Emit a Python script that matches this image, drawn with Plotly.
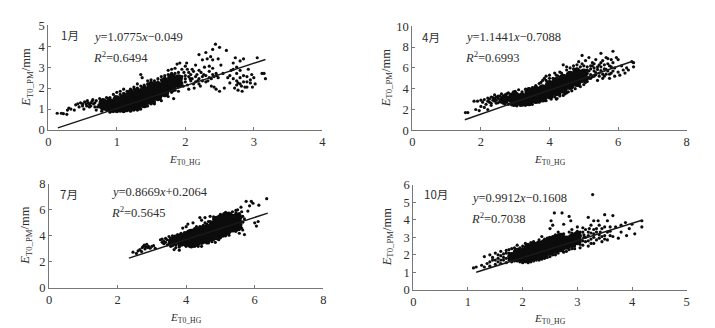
import plotly.graph_objects as go

W, H = 715, 328
FONT = "Liberation Serif"

# --- data ---
jan_core = [(0.8,1.15),(0.8,1.3),(0.9,1.08),(0.9,1.3),(1.0,1.03),(1.0,1.25),(1.0,1.45),(1.1,1.03),(1.1,1.25),(1.1,1.5),
 (1.2,1.08),(1.2,1.3),(1.2,1.55),(1.2,1.72),(1.3,1.12),(1.3,1.35),(1.3,1.6),(1.3,1.8),(1.4,1.25),(1.4,1.45),(1.4,1.7),(1.4,1.9),
 (1.5,1.42),(1.5,1.68),(1.5,1.92),(1.5,2.1),(1.6,1.6),(1.6,1.85),(1.6,2.1),(1.7,1.78),(1.7,2.05),(1.7,2.3),(1.8,2.0),(1.8,2.25),(1.8,2.5),(1.9,2.2),(1.9,2.45)]
jan_pts = [(0.13,0.8),(0.19,0.8),(0.22,0.78),(0.27,0.75),(0.28,0.95),(0.3,1.05),(0.33,1.0),(0.38,0.95),(0.4,1.2),(0.43,1.25),(0.45,1.1),(0.47,1.3),(0.5,1.15),(0.52,1.0),(0.55,1.25),(0.57,1.4),(0.6,1.1),(0.62,1.3),(0.65,1.45),(0.68,1.1),(0.7,0.95),(0.75,1.5),(0.78,0.9),(0.85,1.55),(0.9,0.85),(0.95,1.7),(1.0,1.8),(1.05,1.85),(1.1,1.95),(1.12,1.72),(1.2,1.95),(1.25,2.05),(1.3,2.2),(1.35,2.65),(1.37,2.5),(1.4,2.15),(1.45,2.35),(1.5,2.4),(1.55,2.35),(1.55,1.35),(1.6,2.45),(1.65,2.4),(1.65,1.4),(1.7,2.6),(1.75,2.85),(1.75,1.6),(1.8,2.9),(1.83,1.5),(1.85,2.7),(1.88,3.15),(1.9,1.85),(1.92,3.2),(1.95,2.9),(1.97,2.1),(2.0,3.05),(2.0,2.6),(2.0,2.3),(2.02,3.2),(2.05,1.95),(2.05,2.75),(2.07,2.45),(2.1,2.9),(2.12,2.2),(2.15,3.1),(2.15,2.55),(2.18,2.35),(2.2,2.85),(2.2,3.6),(2.22,2.1),(2.25,3.35),(2.27,2.65),(2.28,3.0),(2.3,3.7),(2.3,2.3),(2.32,3.4),(2.35,2.8),(2.35,2.5),(2.37,3.5),(2.38,2.1),(2.4,3.85),(2.4,3.35),(2.4,2.65),(2.42,2.05),(2.44,4.1),(2.45,1.95),(2.46,2.6),(2.5,3.95),(2.5,1.85),(2.52,3.1),(2.55,2.7),(2.57,2.0),(2.6,3.8),(2.62,2.5),(2.65,2.25),(2.67,2.85),(2.7,2.45),(2.72,2.0),(2.73,3.45),(2.75,3.0),(2.75,2.7),(2.77,2.25),(2.77,1.9),(2.8,3.3),(2.8,2.85),(2.8,2.5),(2.82,2.1),(2.83,1.85),(2.85,2.6),(2.85,3.4),(2.87,2.05),(2.9,2.3),(2.92,2.9),(2.95,2.4),(2.97,2.65),(2.98,2.05),(3.0,2.5),(3.02,2.2),(3.05,3.45),(3.12,2.7),(3.15,2.7),(3.17,2.45)]
jan_extra = [(0.5,1.25),(0.53,1.35),(0.56,1.15),(0.58,1.3),(0.6,1.22),(0.62,1.15),(0.64,1.38),(0.66,1.25),(0.68,1.3),(0.7,1.4),(0.72,1.1),(0.74,1.2),(0.76,1.35),(0.78,1.05),(0.8,1.45),(0.82,1.0),(0.85,0.95),(0.88,1.5),(0.9,1.55),(0.92,0.9),(0.95,0.88),(0.98,1.6),(1.05,1.7),(1.1,1.75),(1.15,1.85),(1.2,1.9),(1.25,1.95),(1.3,2.0),(1.35,2.1),(1.4,2.1),(1.45,2.2),(1.5,2.3),(1.55,2.25),(1.6,2.3),(1.65,2.55),(1.7,2.5),(1.75,2.65),(1.8,2.7),(1.85,2.95),(1.9,2.75),(1.95,2.55),(1.95,2.25),(1.98,2.75),(2.0,2.45),(2.03,2.9),(2.03,2.15),(2.05,2.55),(2.08,2.35),(2.08,2.65),(2.1,2.45),(2.12,2.8),(2.13,2.0),(2.15,2.3),(2.17,2.65),(2.2,2.45),(2.2,2.2),(2.23,2.75),(2.25,2.55),(2.25,2.35),(2.3,2.6),(2.33,2.35),(2.35,3.05),(2.38,2.45),(2.4,2.95),(2.42,2.55),(2.45,2.7),(2.48,3.4),(2.48,2.5),(1.6,1.45),(1.7,1.65),(1.8,1.8),(1.85,1.9),(1.45,1.15),(1.5,1.25),(1.55,1.25),(1.35,1.0),(1.3,0.95),(1.25,0.95),(1.2,0.9),(1.15,0.92),(1.1,0.88),(1.05,0.9),(1.0,0.88),(2.65,2.6),(2.7,2.9),(2.75,2.35),(2.8,2.2),(2.85,2.3),(2.9,2.55),(2.9,2.05),(2.75,2.15),(2.7,3.2),(2.95,2.25)]
jan_line_x = [0.14, 3.17]
jan_line_y = [0.10, 3.37]

apr_core = [(2.7,3.0),(2.9,3.05),(3.0,2.7),(3.0,3.3),(3.2,2.7),(3.2,3.2),(3.4,2.75),(3.4,3.3),(3.4,3.7),(3.6,2.95),(3.6,3.4),(3.6,3.85),(3.8,3.1),(3.8,3.55),(3.8,4.0),(4.0,3.4),(4.0,3.85),(4.0,4.4),(4.2,3.7),(4.2,4.15),(4.2,4.7),(4.4,3.95),(4.4,4.45),(4.4,5.0),(4.6,4.3),(4.6,4.8),(4.6,5.3),(4.8,4.6),(4.8,5.1),(4.8,5.6),(5.0,5.0),(5.0,5.5)]
apr_pts = [(1.55,1.7),(1.62,1.7),(1.8,2.8),(1.85,2.0),(1.9,2.8),(1.95,1.9),(2.0,2.9),(2.0,2.3),(2.05,2.7),(2.1,2.2),(2.1,2.95),(2.15,2.5),(2.2,3.1),(2.2,2.0),(2.25,2.7),(2.3,3.2),(2.3,2.4),(2.35,2.9),(2.4,3.4),(2.45,2.6),(2.5,3.1),(2.55,2.75),(2.55,3.3),(2.6,3.5),(2.65,2.6),(2.7,3.4),(2.75,2.7),(2.8,3.6),(2.85,2.55),(2.9,3.5),(2.95,2.4),(3.0,3.75),(3.05,2.35),(3.1,3.9),(3.15,2.4),(3.2,3.7),(3.3,3.95),(3.3,2.4),(3.4,4.0),(3.5,2.5),(3.5,4.1),(3.6,4.3),(3.7,2.7),(3.7,4.5),(3.8,4.8),(3.85,5.0),(3.9,2.85),(3.9,5.2),(4.0,5.3),(4.05,3.0),(4.1,5.0),(4.2,3.0),(4.25,5.2),(4.3,3.3),(4.35,5.5),(4.4,6.3),(4.45,3.5),(4.5,5.8),(4.5,3.6),(4.6,6.0),(4.65,3.8),(4.7,5.9),(4.75,4.0),(4.8,6.3),(4.85,6.6),(4.9,4.2),(4.95,7.2),(5.0,6.2),(5.0,4.4),(5.05,6.7),(5.1,4.7),(5.1,5.8),(5.15,7.0),(5.2,5.0),(5.2,6.2),(5.25,6.5),(5.3,5.2),(5.3,5.7),(5.35,6.8),(5.4,6.1),(5.4,4.8),(5.45,5.5),(5.5,7.4),(5.5,6.5),(5.55,5.0),(5.6,5.9),(5.65,7.0),(5.65,5.4),(5.7,6.4),(5.75,5.0),(5.8,6.8),(5.8,5.5),(5.85,7.6),(5.9,6.0),(5.9,5.2),(5.95,7.0),(6.0,6.8),(6.0,5.6),(6.05,5.3),(6.1,6.2),(6.15,5.8),(6.2,5.5),(6.25,6.0),(6.3,5.8),(6.4,6.6),(6.45,6.5),(6.45,6.1)]
apr_extra = [(2.2,2.8),(2.25,3.0),(2.3,2.6),(2.35,3.15),(2.4,2.8),(2.4,3.05),(2.45,3.2),(2.45,2.9),(2.5,2.65),(2.5,3.3),(2.55,2.95),(2.6,3.15),(2.6,2.7),(2.65,3.3),(2.65,2.9),(2.7,2.55),(2.75,3.5),(2.8,2.5),(2.85,3.45),(2.9,2.45),(2.95,3.7),(5.05,5.2),(5.1,5.45),(5.1,6.1),(5.15,5.0),(5.15,5.7),(5.2,5.35),(5.2,5.9),(5.25,5.15),(5.25,6.2),(5.3,6.0),(5.3,6.4),(5.35,5.35),(5.35,5.55),(5.4,5.85),(5.45,6.3),(5.45,5.2),(5.5,5.75),(5.5,6.1),(5.55,6.7),(5.55,5.4),(5.6,6.3),(5.6,5.2),(5.65,5.85),(5.7,6.9),(5.7,5.7),(5.75,6.2),(5.75,5.4),(5.8,6.1),(5.85,6.5),(5.85,5.7),(4.9,6.1),(4.95,6.4),(4.8,5.9),(4.7,6.2),(4.5,6.1),(4.3,5.6),(4.2,5.3),(4.15,5.5),(4.0,5.0),(3.9,4.8),(3.75,4.6),(4.55,3.7),(4.4,3.35),(4.3,3.5),(4.15,3.2),(4.05,3.15),(4.22,3.05),(4.85,4.3),(4.95,4.7),(5.05,4.6)]
apr_line_x = [1.53, 6.42]
apr_line_y = [1.02, 6.64]

jul_core = [(3.6,3.55),(3.7,3.75),(3.85,3.5),(3.85,3.85),(4.0,3.5),(4.0,3.9),(4.15,3.45),(4.15,3.85),(4.15,4.2),(4.3,3.5),(4.3,3.9),(4.3,4.3),(4.45,3.65),(4.45,4.05),(4.45,4.45),(4.6,3.75),(4.6,4.15),(4.6,4.55),(4.75,3.9),(4.75,4.3),(4.75,4.7),(4.9,4.0),(4.9,4.4),(4.9,4.85),(4.9,5.2),(5.05,4.2),(5.05,4.6),(5.05,5.0),(5.05,5.35),(5.2,4.4),(5.2,4.8),(5.2,5.2),(5.2,5.5),(5.35,4.6),(5.35,5.0),(5.35,5.35),(5.5,4.7),(5.5,5.1),(5.5,5.45)]
jul_pts = [(2.45,2.75),(2.55,2.65),(2.6,2.85),(2.65,2.95),(2.7,2.8),(2.72,3.1),(2.75,3.2),(2.78,3.3),(2.8,3.0),(2.82,3.15),(2.85,3.35),(2.88,3.1),(2.9,3.2),(2.95,3.05),(3.0,3.2),(3.05,3.25),(3.1,3.05),(3.25,3.7),(3.3,3.5),(3.35,3.4),(3.4,3.8),(3.45,3.3),(3.5,3.95),(3.55,3.2),(3.6,4.0),(3.65,2.95),(3.7,3.1),(3.75,4.1),(3.8,3.15),(3.8,2.9),(3.85,4.2),(3.9,4.6),(3.95,4.25),(4.0,4.7),(4.0,3.2),(4.05,4.9),(4.1,4.4),(4.2,5.0),(4.25,4.55),(4.3,4.7),(4.4,5.4),(4.45,5.2),(4.45,3.2),(4.55,5.4),(4.55,5.0),(4.6,3.45),(4.7,5.5),(4.7,5.1),(4.85,3.5),(5.0,3.85),(5.1,5.7),(5.25,5.75),(5.35,5.85),(5.4,4.4),(5.45,5.95),(5.5,6.0),(5.55,4.2),(5.55,5.7),(5.6,6.2),(5.62,5.85),(5.65,4.45),(5.65,5.5),(5.7,5.3),(5.7,4.1),(5.75,6.65),(5.8,5.9),(5.85,6.3),(5.9,6.65),(5.95,6.5),(6.0,5.0),(6.05,4.75),(6.1,5.1),(6.35,6.85),(6.12,6.35)]
jul_extra = [(3.3,3.75),(3.35,3.6),(3.4,3.5),(3.45,3.7),(3.5,3.4),(3.55,3.8),(3.6,3.25),(3.7,3.3),(3.75,3.95),(3.8,3.25),(3.9,4.1),(4.0,4.25),(4.05,4.35),(4.1,3.2),(4.2,4.45),(4.3,4.55),(4.4,4.7),(4.5,4.8),(4.6,4.9),(4.65,5.1),(4.75,5.05),(4.8,5.3),(4.8,5.45),(4.95,5.5),(5.0,5.65),(5.15,5.8),(5.3,5.7),(5.45,5.75),(5.55,5.2),(5.6,5.4),(5.6,4.85),(5.65,5.05),(5.62,4.6),(5.55,4.5),(5.45,4.35),(5.25,4.05),(5.15,4.0),(4.95,3.7),(4.75,3.55),(4.65,3.45),(4.35,3.2),(4.2,3.2),(4.15,3.15),(4.25,3.2)]
jul_line_x = [2.33, 6.38]
jul_line_y = [2.29, 5.74]

oct_core = [(1.8,1.9),(1.9,1.85),(1.9,2.15),(2.0,1.8),(2.0,2.1),(2.1,1.8),(2.1,2.1),(2.1,2.4),(2.2,1.9),(2.2,2.2),(2.2,2.5),(2.3,1.95),(2.3,2.25),(2.3,2.55),(2.4,2.05),(2.4,2.35),(2.4,2.65),(2.5,2.2),(2.5,2.5),(2.5,2.8),(2.6,2.3),(2.6,2.6),(2.6,2.9),(2.7,2.4),(2.7,2.7),(2.7,3.0),(2.8,2.55),(2.8,2.85),(2.9,2.65),(2.9,2.95),(3.0,2.8),(3.0,3.1)]
oct_pts = [(1.1,1.25),(1.15,1.3),(1.25,1.4),(1.3,1.3),(1.3,1.9),(1.35,1.5),(1.4,1.35),(1.4,2.0),(1.45,1.7),(1.5,1.45),(1.5,2.1),(1.55,1.8),(1.6,1.5),(1.6,2.2),(1.65,1.85),(1.7,1.55),(1.7,2.1),(1.75,2.3),(1.8,1.6),(1.85,2.4),(1.9,1.65),(1.9,2.55),(1.95,2.4),(2.0,1.55),(2.0,2.5),(2.05,2.65),(2.1,1.55),(2.15,2.7),(2.2,1.65),(2.3,2.85),(2.3,1.7),(2.35,3.05),(2.4,1.8),(2.45,2.95),(2.5,3.0),(2.5,3.5),(2.5,1.9),(2.52,3.95),(2.55,3.7),(2.58,4.4),(2.6,3.15),(2.6,2.0),(2.65,3.3),(2.72,4.4),(2.75,3.75),(2.75,3.2),(2.8,2.2),(2.85,3.3),(2.85,4.2),(2.88,3.95),(2.9,3.45),(2.95,3.2),(2.95,2.35),(3.0,3.6),(3.05,2.4),(3.05,3.3),(3.1,2.55),(3.1,3.55),(3.12,3.0),(3.15,2.75),(3.2,4.15),(3.2,3.3),(3.2,2.5),(3.25,3.7),(3.25,2.9),(3.28,5.45),(3.3,3.95),(3.3,3.2),(3.3,2.65),(3.35,3.5),(3.38,3.95),(3.4,2.95),(3.42,3.3),(3.45,2.75),(3.5,4.3),(3.5,3.6),(3.5,3.1),(3.55,3.95),(3.55,2.85),(3.6,3.35),(3.65,4.25),(3.65,3.05),(3.7,3.6),(3.75,2.95),(3.8,3.7),(3.8,3.3),(3.88,3.85),(3.9,3.1),(3.95,3.5),(4.0,3.75),(4.05,3.2),(4.18,3.95),(4.18,3.6)]
oct_extra = [(1.4,1.6),(1.45,1.85),(1.5,1.7),(1.55,2.0),(1.55,1.6),(1.6,1.95),(1.6,1.7),(1.65,2.05),(1.65,1.7),(1.7,2.25),(1.7,1.8),(1.75,1.7),(1.75,2.1),(1.8,2.35),(1.85,1.65),(1.95,1.6),(2.05,1.6),(2.0,2.35),(2.1,2.6),(2.15,1.6),(2.2,2.75),(2.25,1.7),(2.25,2.65),(2.35,1.75),(2.4,2.9),(2.45,1.85),(2.55,3.05),(2.55,2.0),(2.65,3.15),(2.65,2.1),(2.75,2.15),(2.85,2.3),(2.9,3.25),(2.9,2.35),(2.95,2.5),(3.0,3.35),(3.05,2.6),(3.05,3.05),(3.1,2.8),(3.1,3.3),(3.12,3.15),(3.15,3.0),(3.15,3.45),(3.2,2.8),(3.2,3.1),(3.22,3.5),(3.25,3.25),(3.25,2.65),(3.3,3.0),(3.3,3.45),(3.35,2.85),(3.35,3.3),(3.4,3.15),(3.4,3.7),(3.45,3.5),(3.45,3.05),(3.5,2.9),(3.55,3.3),(3.6,3.1),(3.6,3.6)]
oct_line_x = [1.15, 4.18]
oct_line_y = [1.00, 3.98]

panels = [
    dict(label="1月",  eq="<i>y</i>=1.0775<i>x</i>−0.049",  r2="0.6494", core=jan_core, pts=jan_pts+jan_extra, lx=jan_line_x, ly=jan_line_y,
         xmax=4, ymax=5, xdt=1, ydt=1, box=(48.3,322.3,25.3,130.0), lab=(59,35), e=(91,37), r=(91,57), xt_y=160, yt_x=27),
    dict(label="4月",  eq="<i>y</i>=1.1441<i>x</i>−0.7088", r2="0.6993", core=apr_core, pts=apr_pts+apr_extra, lx=apr_line_x, ly=apr_line_y,
         xmax=8, ymax=10, xdt=2, ydt=2, box=(412.3,686.7,26.3,130.3), lab=(420,37), e=(463,37), r=(463,57), xt_y=160, yt_x=387),
    dict(label="7月",  eq="<i>y</i>=0.8669<i>x</i>+0.2064", r2="0.5645", core=jul_core, pts=jul_pts+jul_extra, lx=jul_line_x, ly=jul_line_y,
         xmax=8, ymax=8, xdt=2, ydt=2, box=(49.0,323.3,183.7,288.0), lab=(58,194), e=(109,192), r=(109,212), xt_y=318, yt_x=26),
    dict(label="10月", eq="<i>y</i>=0.9912<i>x</i>−0.1608", r2="0.7038", core=oct_core, pts=oct_pts+oct_extra, lx=oct_line_x, ly=oct_line_y,
         xmax=5, ymax=6, xdt=1, ydt=1, box=(413.3,686.7,185.0,289.7), lab=(422,194), e=(469,198), r=(469,218), xt_y=319, yt_x=388),
]

TXT = "#2e2e2e"
AX = "#777777"
Y_TITLE = "<i>E</i><sub>T0_PM</sub>/mm"
X_TITLE = "<i>E</i><sub>T0_HG</sub>"
fig = go.Figure()
layout = dict(width=W, height=H, margin=dict(l=0, r=0, t=0, b=0), showlegend=False,
              paper_bgcolor="white", plot_bgcolor="white", font=dict(family=FONT, size=12, color=TXT))
ann = []
for i, p in enumerate(panels, start=1):
    xa, ya = f"x{i}", f"y{i}"
    x0, x1, y0, y1 = p["box"]
    layout[f"xaxis{i}"] = dict(domain=[x0/W, x1/W], range=[0, p["xmax"]], dtick=p["xdt"], anchor=ya, automargin=False,
        showgrid=False, zeroline=False, showline=True, linecolor=AX, linewidth=1, ticks="inside", ticklen=3, tickcolor=AX,
        tickfont=dict(size=12.5, color=TXT))
    layout[f"yaxis{i}"] = dict(domain=[1-y1/H, 1-y0/H], range=[0, p["ymax"]], dtick=p["ydt"], anchor=xa, automargin=False,
        showgrid=False, zeroline=False, showline=True, linecolor=AX, linewidth=1, ticks="inside", ticklen=3, tickcolor=AX,
        tickfont=dict(size=12.5, color=TXT))
    fig.add_trace(go.Scatter(x=[q[0] for q in p["core"]], y=[q[1] for q in p["core"]], mode="markers", xaxis=xa, yaxis=ya,
                             marker=dict(color="#0c0c0c", size=9, line=dict(width=0)), cliponaxis=False))
    fig.add_trace(go.Scatter(x=[q[0] for q in p["pts"]], y=[q[1] for q in p["pts"]], mode="markers", xaxis=xa, yaxis=ya,
                             marker=dict(color="#0c0c0c", size=3.2, line=dict(width=0)), cliponaxis=False))
    fig.add_trace(go.Scatter(x=p["lx"], y=p["ly"], mode="lines", xaxis=xa, yaxis=ya, line=dict(color="#1a1a1a", width=1.5)))
    for (px, py), t, size, fam in [(p["lab"], p["label"], 11.5, "Noto Sans CJK SC"), (p["e"], p["eq"], 12.5, FONT), (p["r"], f"<i>R</i><sup>2</sup>={p['r2']}", 12.5, FONT)]:
        ann.append(dict(x=px/W, y=1-py/H, xref="paper", yref="paper", xanchor="left", yanchor="middle", showarrow=False,
                        text=t, font=dict(size=size, family=fam, color=TXT)))
    ann.append(dict(x=(x0+x1)/2/W, y=1-p["xt_y"]/H, xref="paper", yref="paper", xanchor="center", yanchor="middle", showarrow=False,
                    text=X_TITLE, font=dict(size=11, family=FONT, color=TXT)))
    ann.append(dict(x=p["yt_x"]/W, y=1-(y0+y1)/2/H, xref="paper", yref="paper", xanchor="center", yanchor="middle", showarrow=False,
                    textangle=-90, text=Y_TITLE, font=dict(size=12.5, family=FONT, color=TXT)))
layout["annotations"] = ann
fig.update_layout(**layout)
fig.write_html("out.html", post_script="document.body.style.margin='0';", config={"displayModeBar": False})
